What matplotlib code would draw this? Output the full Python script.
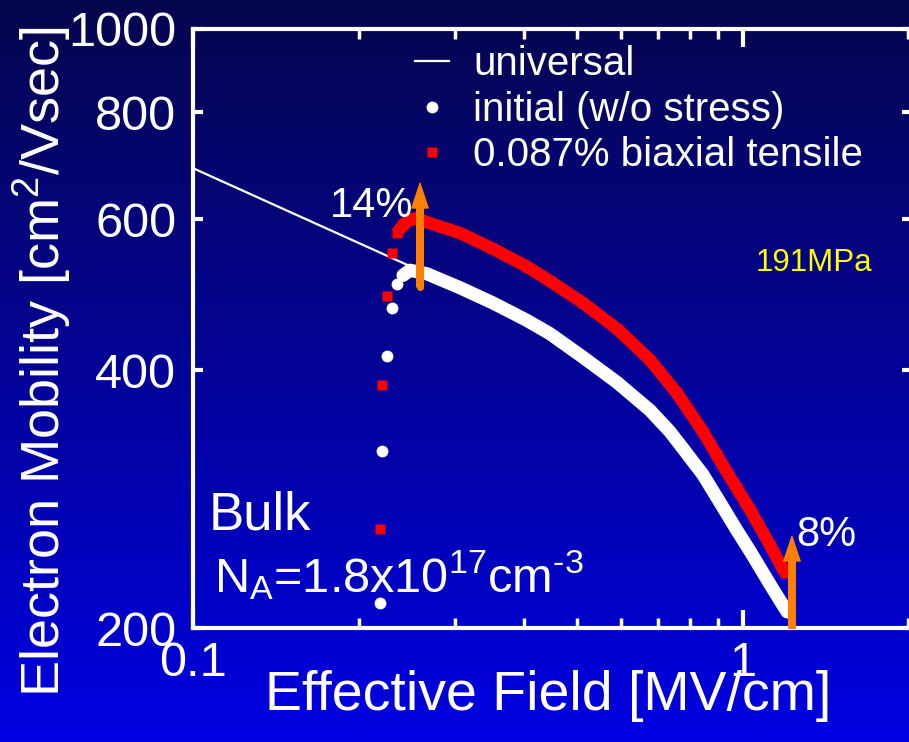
import numpy as np
import matplotlib
matplotlib.use("Agg")
import matplotlib.pyplot as plt
from matplotlib.ticker import FixedLocator, NullLocator, NullFormatter, LogLocator, FuncFormatter
from matplotlib.transforms import ScaledTranslation

plt.rcParams['font.family'] = ['Liberation Sans', 'DejaVu Sans']
plt.rcParams['mathtext.default'] = 'regular'

# Universal mobility curve (straight line on log-log axes)
universal_E = [0.1, 0.45]
universal_mu = [688, 445]

# Measured electron mobility, initial (no stress)
initial_E = [0.2188, 0.2206, 0.2253, 0.2301, 0.2350, 0.2410, 0.2480, 0.2664,
             0.3058, 0.3511, 0.4049, 0.4458, 0.5119, 0.5902, 0.6777, 0.7366,
             0.7778, 0.8459, 0.8970, 0.9752, 1.0298, 1.1197, 1.2023]
initial_mu = [214, 322, 415, 473, 504, 516, 523, 518,
              499, 479, 457, 441, 414, 387, 359, 339,
              324, 302, 284, 260, 246, 225, 209]

# Measured electron mobility under 0.087% biaxial tensile strain
strained_E = [0.2188, 0.2206, 0.2253, 0.2301, 0.2350, 0.2410, 0.2480, 0.2555,
              0.2664, 0.3058, 0.3511, 0.4049, 0.4458, 0.5119, 0.5902, 0.6777,
              0.7586, 0.8459, 0.8970, 0.9752, 1.0298, 1.1197, 1.1922]
strained_mu = [261, 384, 488, 548, 578, 591, 599, 602,
               595, 578, 554, 528, 508, 479, 447, 411,
               376, 339, 318, 291, 275, 250, 232]

# Enhancement arrows: field, start and end mobility, label
arrow_E = [0.2587, 1.228]
arrow_from = [500, 200]
arrow_to = [661, 256]
arrow_text = ['14%', '8%']

x_ticks = [0.1, 1]
y_ticks = [200, 400, 600, 800, 1000]

W, H = 909, 742
fig = plt.figure(figsize=(W / 100, H / 100), dpi=100)

# vertical background gradient, navy at the top to bright blue at the bottom
bg = fig.add_axes([0, 0, 1, 1], zorder=-10)
t = np.linspace(0, 1, 256)[:, None]
top = np.array([6, 6, 78]) / 255
bot = np.array([0, 0, 226]) / 255
grad = top[None, None, :] * (1 - t[..., None]) + bot[None, None, :] * t[..., None]
grad = np.repeat(grad, 2, axis=1)
bg.imshow(grad, aspect='auto', extent=[0, 1, 0, 1], origin='upper')
bg.set_axis_off()

left, right, ytop, ybot = 193, 912, 29, 628
ax = fig.add_axes([left / W, 1 - ybot / H, (right - left) / W, (ybot - ytop) / H])
ax.set_facecolor('none')
ax.set_xscale('log')
ax.set_yscale('log')
ax.set_xlim(0.1, 2.03)
ax.set_ylim(200, 1000)

white = 'white'
red = '#ff0000'
orange = '#ff8000'

h_univ, = ax.plot(universal_E, universal_mu, '-', color=white, lw=1.6, zorder=2,
                  label='universal')

dense_w = 5
ax.plot(initial_E[dense_w:], initial_mu[dense_w:], '-', color=white, lw=9.5,
        solid_capstyle='round', solid_joinstyle='round', zorder=3)
h_init, = ax.plot(initial_E, initial_mu, 'o', color=white, ms=8.5, mec='none',
                  zorder=3, label='initial (w/o stress)')

dense_r = 4
ax.plot(strained_E[dense_r:], strained_mu[dense_r:], '-', color=red, lw=9,
        solid_capstyle='butt', solid_joinstyle='round', zorder=4)
h_str, = ax.plot(strained_E, strained_mu, 's', color=red, ms=7.5, mec='none',
                 zorder=4, label='0.087% biaxial tensile')

for e, a, b in zip(arrow_E, arrow_from, arrow_to):
    ax.annotate('', xy=(e, b), xytext=(e, a), zorder=6,
                arrowprops=dict(arrowstyle='simple,head_length=1.8,head_width=1.2,tail_width=0.5',
                                mutation_scale=10, fc=orange, ec=orange, lw=0.8,
                                shrinkA=0, shrinkB=0, joinstyle='round'))
    # rounded foot of the arrow shaft
    ax.plot([e], [a], 'o', color=orange, ms=5, mec='none', zorder=6)

# axes styling
for s in ax.spines.values():
    s.set_color(white)
    s.set_linewidth(3)

ax.xaxis.set_major_locator(FixedLocator(x_ticks))
ax.xaxis.set_minor_locator(LogLocator(base=10, subs=np.arange(2, 10)))
ax.xaxis.set_minor_formatter(NullFormatter())
ax.xaxis.set_major_formatter(FuncFormatter(lambda v, p: f'{v:g}'))
ax.yaxis.set_major_locator(FixedLocator(y_ticks))
ax.yaxis.set_minor_locator(NullLocator())
ax.yaxis.set_major_formatter(FuncFormatter(lambda v, p: f'{v:g}'))

ax.tick_params(which='both', direction='in', top=True, right=True,
               colors=white, labelcolor=white, labelsize=35)
ax.tick_params(axis='x', which='major', length=13, width=3, pad=9)
ax.tick_params(axis='x', which='minor', length=7, width=2.5)
ax.tick_params(axis='y', which='major', length=7, width=3, pad=12)

ax.set_xlabel('Effective Field [MV/cm]', color=white, fontsize=40)
ax.xaxis.set_label_coords(0.494, -0.07)
ax.set_ylabel('Electron Mobility [cm$^2$/Vsec]', color=white, fontsize=39,
              va='center', ha='center', rotation_mode='anchor')
ax.yaxis.set_label_coords((42 - left) / (right - left), (ybot - 362) / (ybot - ytop))

# annotations
def px(x, y):
    return ((x - left) / (right - left), (ybot - y) / (ybot - ytop))

ax.text(*px(372, 217), arrow_text[0], transform=ax.transAxes, color=white,
        fontsize=30, ha='center', va='baseline', zorder=5)
ax.text(*px(826, 546), arrow_text[1], transform=ax.transAxes, color=white,
        fontsize=30, ha='center', va='baseline', zorder=5)
ax.text(*px(814, 271), '191MPa', transform=ax.transAxes, color='#ffff00',
        fontsize=22.5, ha='center', va='baseline')
ax.text(*px(209, 530), 'Bulk', transform=ax.transAxes, color=white,
        fontsize=38, ha='left', va='baseline')
ax.text(*px(214, 592), 'N$_A$=1.8x10$^{17}$cm$^{\u20103}$', transform=ax.transAxes,
        color=white, fontsize=35, ha='left', va='baseline')

leg = ax.legend(handles=[h_univ, h_init, h_str], loc='upper left',
                bbox_to_anchor=(415 / W, 1 - 45 / H), bbox_transform=fig.transFigure,
                frameon=False, fontsize=29, labelcolor=white, handlelength=0.85,
                handletextpad=0.6, labelspacing=0.19, borderpad=0,
                borderaxespad=0, numpoints=1)

# the top tick label sits a little below its tick
for tick in ax.yaxis.get_major_ticks():
    if tick.get_loc() == 1000:
        lab = tick.label1
        lab.set_transform(lab.get_transform() + ScaledTranslation(0, -8 / 100, fig.dpi_scale_trans))

fig.savefig('out.png', dpi=100, facecolor=fig.get_facecolor())
